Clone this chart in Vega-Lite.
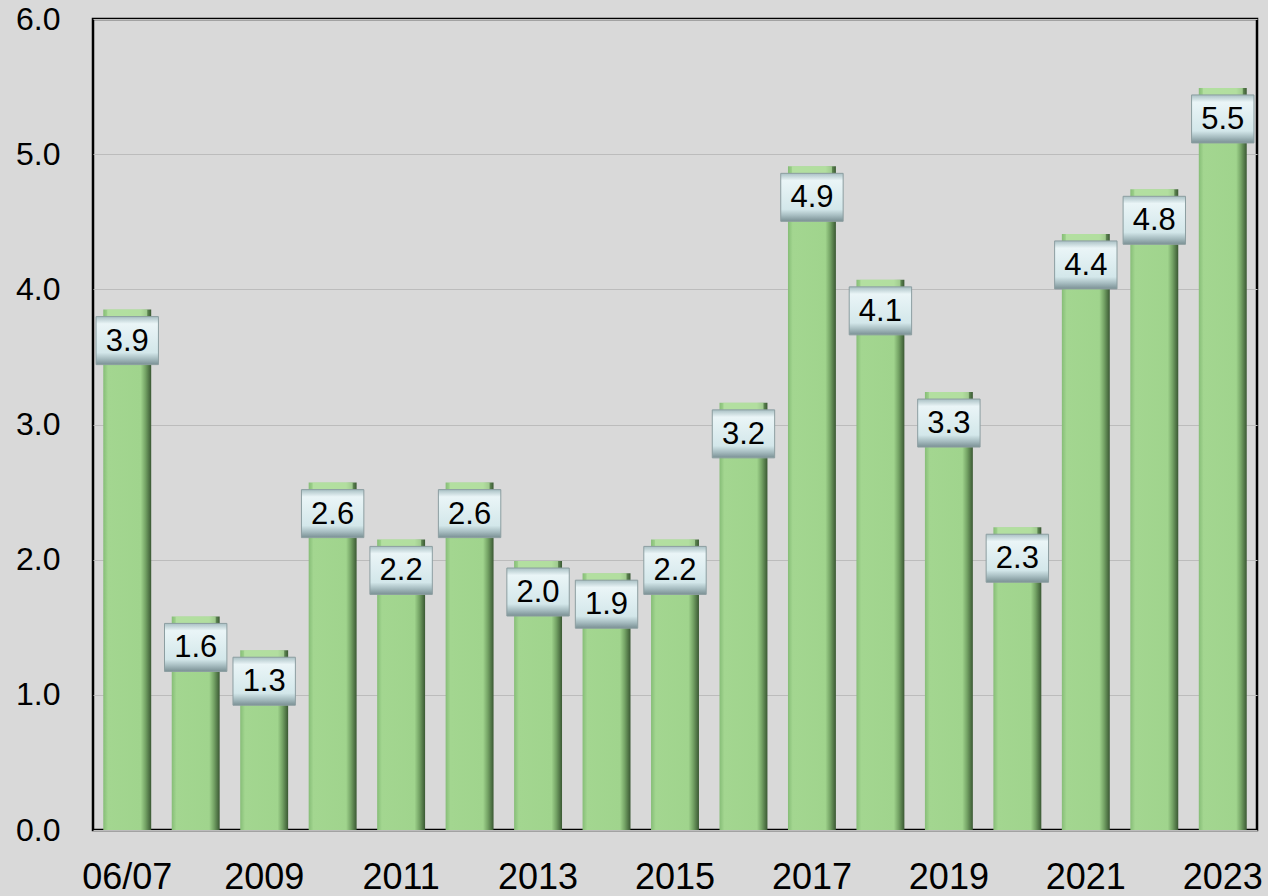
{
  "$schema": "https://vega.github.io/schema/vega-lite/v6.json",
  "width": 1164,
  "height": 811,
  "autosize": {"type": "none"},
  "padding": {"left": 93, "top": 19, "right": 11, "bottom": 66},
  "background": "#d9d9d9",
  "config": {
    "view": {"stroke": "#000000", "strokeWidth": 2.5, "fill": "#d9d9d9"},
    "axis": {"labelFont": "Liberation Sans", "labelFontSize": 35, "labelColor": "#000000", "ticks": false, "domain": false, "title": null}
  },
  "data": {
    "values": [
      {"period": "06/07", "v": 3.85, "lbl": "3.9"},
      {"period": "2008", "v": 1.58, "lbl": "1.6"},
      {"period": "2009", "v": 1.33, "lbl": "1.3"},
      {"period": "2010", "v": 2.57, "lbl": "2.6"},
      {"period": "2011", "v": 2.15, "lbl": "2.2"},
      {"period": "2012", "v": 2.57, "lbl": "2.6"},
      {"period": "2013", "v": 1.99, "lbl": "2.0"},
      {"period": "2014", "v": 1.9, "lbl": "1.9"},
      {"period": "2015", "v": 2.15, "lbl": "2.2"},
      {"period": "2016", "v": 3.16, "lbl": "3.2"},
      {"period": "2017", "v": 4.91, "lbl": "4.9"},
      {"period": "2018", "v": 4.07, "lbl": "4.1"},
      {"period": "2019", "v": 3.24, "lbl": "3.3"},
      {"period": "2020", "v": 2.24, "lbl": "2.3"},
      {"period": "2021", "v": 4.41, "lbl": "4.4"},
      {"period": "2022", "v": 4.74, "lbl": "4.8"},
      {"period": "2023", "v": 5.49, "lbl": "5.5"}
    ]
  },
  "encoding": {
    "x": {
      "field": "period", "type": "nominal", "sort": null,
      "scale": {"paddingInner": 0.3, "paddingOuter": 0.15},
      "axis": {"labelAngle": 0, "values": ["06/07", "2009", "2011", "2013", "2015", "2017", "2019", "2021", "2023"], "labelPadding": 58, "labelBaseline": "alphabetic", "labelFontSize": 36, "grid": false}
    },
    "y": {
      "field": "v", "type": "quantitative",
      "scale": {"domain": [0, 6], "nice": false, "zero": true},
      "axis": {"values": [0, 1, 2, 3, 4, 5, 6], "format": ".1f", "labelPadding": 33, "labelFontSize": 32, "grid": true, "gridColor": "#bcbcbc", "gridWidth": 1}
    }
  },
  "layer": [
    {
      "mark": {
        "type": "bar",
        "color": {
          "gradient": "linear", "x1": 0, "x2": 1, "y1": 0, "y2": 0,
          "stops": [
            {"offset": 0, "color": "#86bd77"},
            {"offset": 0.1, "color": "#a3d690"},
            {"offset": 0.78, "color": "#a0d48d"},
            {"offset": 0.88, "color": "#74a365"},
            {"offset": 1, "color": "#3a5833"}
          ]
        }
      }
    },
    {
      "mark": {"type": "tick", "color": "#b9e3a6", "thickness": 8, "yOffset": 4, "size": 40}
    },
    {
      "mark": {
        "type": "point",
        "shape": "M-1.3,-1L1.3,-1L1.3,1L-1.3,1Z",
        "size": 2304,
        "filled": true,
        "opacity": 1,
        "yOffset": 31,
        "stroke": "#8c9ea1",
        "strokeWidth": 1,
        "fill": {
          "gradient": "linear", "x1": 0, "x2": 0, "y1": 0, "y2": 1,
          "stops": [
            {"offset": 0, "color": "#a9c0c4"},
            {"offset": 0.15, "color": "#eaf5f7"},
            {"offset": 0.75, "color": "#d3e7ea"},
            {"offset": 0.88, "color": "#a6bcc0"},
            {"offset": 1, "color": "#7a9094"}
          ]
        }
      }
    },
    {
      "mark": {"type": "text", "font": "Liberation Sans", "fontSize": 31, "color": "#000000", "baseline": "middle", "yOffset": 32},
      "encoding": {"text": {"field": "lbl"}}
    }
  ]
}
